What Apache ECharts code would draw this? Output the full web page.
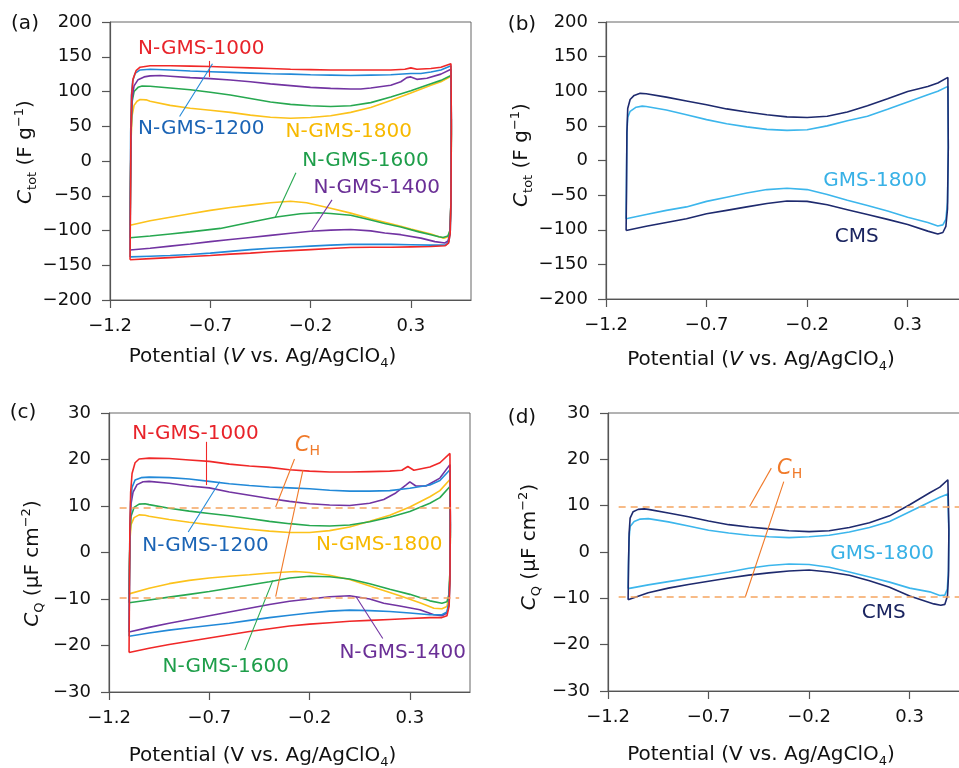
<!DOCTYPE html>
<html>
<head>
<meta charset="utf-8">
<title>CV capacitance</title>
<script src="https://cdn.jsdelivr.net/npm/echarts@6/dist/echarts.min.js"></script>
<style>
  html, body { margin: 0; padding: 0; background: #fff; }
  #chart { width: 959px; height: 768px; }
</style>
</head>
<body>
<div id="chart"></div>
<script>
// x ticks shared by every panel (V)
const xTicks = [-1.2, -0.7, -0.2, 0.3];

// (a) Ctot, F g-1  -- [potential, capacitance], anodic then cathodic sweep
const totN1000 = [[-1.1,-142],[-1.098,-60],[-1.096,40],[-1.092,95],[-1.085,118],[-1.07,130],[-1.05,135],[-1.0,137],[-0.9,137],[-0.8,136.5],[-0.7,136],[-0.6,135],[-0.5,134],[-0.4,133],[-0.3,132],[-0.2,131.5],[-0.1,131],[0,131],[0.1,131],[0.2,131],[0.27,132],[0.3,134],[0.33,132],[0.4,133],[0.45,135],[0.5,140],[0.502,60],[0.5,-60],[0.496,-105],[0.488,-118],[0.47,-122],[0.4,-123],[0.3,-123.5],[0.2,-124],[0.1,-124],[0,-124.5],[-0.1,-126],[-0.2,-127.5],[-0.3,-129],[-0.4,-130.5],[-0.5,-132.5],[-0.6,-134],[-0.7,-136],[-0.8,-137.5],[-0.9,-139],[-1.0,-140.5],[-1.1,-142]];
const totN1200 = [[-1.1,-138],[-1.099,-60],[-1.097,40],[-1.093,95],[-1.087,115],[-1.075,126],[-1.05,131],[-1.0,132],[-0.9,131],[-0.8,129.5],[-0.7,128.5],[-0.6,127.5],[-0.5,126.5],[-0.4,125.5],[-0.3,125],[-0.2,124],[-0.1,123.5],[0,123],[0.1,123.5],[0.2,124],[0.3,126],[0.35,126],[0.4,128],[0.45,131],[0.5,137],[0.502,60],[0.5,-50],[0.497,-100],[0.49,-116],[0.475,-121],[0.4,-121],[0.3,-120.5],[0.2,-120],[0.1,-120],[0,-120],[-0.1,-121],[-0.2,-122.5],[-0.3,-124],[-0.4,-125.5],[-0.5,-127.5],[-0.6,-130],[-0.7,-132.5],[-0.8,-134.5],[-0.9,-136],[-1.0,-137],[-1.1,-138]];
const totN1400 = [[-1.1,-128],[-1.098,-50],[-1.095,40],[-1.09,90],[-1.08,108],[-1.06,117],[-1.03,121],[-1.0,122.5],[-0.95,123],[-0.9,122],[-0.8,120],[-0.7,118.5],[-0.6,116.5],[-0.5,114],[-0.4,111],[-0.3,108.5],[-0.2,106],[-0.1,104.5],[0,103.5],[0.05,103.5],[0.1,105],[0.2,109],[0.25,114],[0.28,120],[0.3,121],[0.33,117.5],[0.38,119],[0.45,125],[0.5,132],[0.502,50],[0.5,-60],[0.495,-105],[0.485,-115],[0.47,-118],[0.42,-116],[0.35,-111],[0.25,-106],[0.17,-103.5],[0.1,-100.5],[0,-98.5],[-0.1,-99.5],[-0.2,-101],[-0.3,-104],[-0.4,-107],[-0.5,-110],[-0.6,-113],[-0.7,-116],[-0.8,-119.5],[-0.9,-122.5],[-1.0,-125.5],[-1.1,-128]];
const totN1600 = [[-1.1,-110.5],[-1.098,-40],[-1.095,40],[-1.09,85],[-1.08,100],[-1.06,106],[-1.04,108],[-1.0,107.5],[-0.9,105],[-0.8,102.5],[-0.7,99],[-0.6,95],[-0.5,90],[-0.4,85],[-0.3,81.5],[-0.2,79.5],[-0.1,78.5],[0,79.5],[0.1,84],[0.2,92],[0.3,101],[0.4,111],[0.45,116],[0.5,123],[0.502,40],[0.5,-60],[0.495,-100],[0.485,-108],[0.46,-110],[0.44,-109],[0.4,-106],[0.34,-102],[0.25,-95],[0.17,-90],[0.1,-85],[0,-78],[-0.1,-75.5],[-0.16,-74.5],[-0.25,-76],[-0.37,-80.5],[-0.5,-88],[-0.65,-97],[-0.8,-102],[-0.9,-105],[-1.0,-108],[-1.1,-110.5]];
const totN1800 = [[-1.1,-92.5],[-1.098,-30],[-1.095,30],[-1.09,65],[-1.08,80],[-1.065,86],[-1.05,88.5],[-1.02,88],[-1.0,86],[-0.9,80],[-0.8,76],[-0.7,73],[-0.6,70],[-0.5,66],[-0.4,63],[-0.3,61.5],[-0.2,62.5],[-0.1,65],[0,70],[0.1,77],[0.2,87],[0.3,98],[0.4,109],[0.45,114],[0.5,122],[0.502,40],[0.5,-60],[0.495,-100],[0.485,-109],[0.465,-111],[0.44,-109],[0.4,-105],[0.3,-98],[0.25,-94],[0.1,-83],[0,-75],[-0.1,-68],[-0.22,-60],[-0.3,-58],[-0.4,-60],[-0.5,-63.5],[-0.6,-67],[-0.7,-71],[-0.8,-76],[-0.9,-81],[-1.0,-86],[-1.1,-92.5]];

// (b) Ctot, F g-1
const totCMS = [[-1.1,-101],[-1.098,-40],[-1.096,40],[-1.092,75],[-1.08,88],[-1.06,94],[-1.03,97],[-1.0,96.5],[-0.9,91.5],[-0.8,86],[-0.7,80.5],[-0.6,74.5],[-0.5,70],[-0.4,66],[-0.3,63],[-0.2,62],[-0.1,64],[0,70],[0.1,79],[0.2,89],[0.3,99.5],[0.4,107],[0.45,112],[0.5,120],[0.502,20],[0.498,-70],[0.49,-95],[0.475,-104],[0.45,-106],[0.4,-102],[0.3,-92.5],[0.2,-85],[0.1,-78],[0,-71],[-0.1,-64],[-0.2,-59],[-0.3,-58.5],[-0.4,-62],[-0.5,-67],[-0.6,-72],[-0.7,-77],[-0.8,-84],[-0.9,-89.5],[-1.0,-95],[-1.1,-101]];
const totGMS1800 = [[-1.1,-84],[-1.098,-20],[-1.096,40],[-1.092,62],[-1.08,71],[-1.05,77],[-1.02,78.5],[-1.0,78],[-0.9,73],[-0.8,66],[-0.7,59],[-0.6,53],[-0.5,48.5],[-0.4,45],[-0.3,43.5],[-0.2,44.5],[-0.1,50],[0,57.5],[0.1,64],[0.2,74],[0.3,84.5],[0.4,95],[0.45,100],[0.5,107],[0.502,20],[0.498,-60],[0.49,-85],[0.475,-93],[0.45,-94.5],[0.4,-89.5],[0.3,-82],[0.2,-73],[0.1,-65],[0,-57.5],[-0.1,-49],[-0.2,-42],[-0.3,-40],[-0.4,-42],[-0.5,-47],[-0.6,-53],[-0.7,-59],[-0.8,-67],[-0.9,-72],[-1.0,-78],[-1.1,-84]];

// (c) CQ, uF cm-2
const cqN1000 = [[-1.1,-21.5],[-1.098,-8],[-1.096,5],[-1.092,13],[-1.085,17],[-1.07,19.3],[-1.05,20.1],[-1.0,20.3],[-0.9,20.2],[-0.8,19.9],[-0.7,19.6],[-0.6,19],[-0.5,18.6],[-0.4,18.3],[-0.3,17.8],[-0.2,17.5],[-0.1,17.3],[0,17.3],[0.1,17.4],[0.2,17.5],[0.26,17.7],[0.29,18.5],[0.32,17.7],[0.4,18.4],[0.45,19.3],[0.5,21.3],[0.502,8],[0.5,-6],[0.496,-11.5],[0.485,-13.6],[0.46,-14],[0.4,-14],[0.3,-14.2],[0.2,-14.4],[0.1,-14.6],[0,-14.8],[-0.1,-15.1],[-0.2,-15.4],[-0.3,-15.8],[-0.4,-16.4],[-0.5,-17],[-0.6,-17.7],[-0.7,-18.4],[-0.8,-19.1],[-0.9,-19.8],[-1.0,-20.6],[-1.1,-21.5]];
const cqN1200 = [[-1.1,-18],[-1.098,-6],[-1.096,5],[-1.092,11],[-1.085,14],[-1.07,15.6],[-1.04,16.1],[-1.0,16.2],[-0.9,16.1],[-0.8,15.8],[-0.7,15.3],[-0.6,14.8],[-0.5,14.4],[-0.4,14.1],[-0.3,13.9],[-0.2,13.7],[-0.1,13.4],[0,13.2],[0.1,13.2],[0.2,13.3],[0.3,13.8],[0.4,14.5],[0.45,15.5],[0.5,17.8],[0.502,6],[0.5,-5],[0.496,-10.5],[0.485,-12.8],[0.46,-13.4],[0.4,-13.4],[0.3,-13],[0.2,-12.7],[0.1,-12.5],[0,-12.4],[-0.1,-12.6],[-0.2,-13],[-0.3,-13.5],[-0.4,-14],[-0.5,-14.6],[-0.6,-15.2],[-0.7,-15.7],[-0.8,-16.2],[-0.9,-16.7],[-1.0,-17.3],[-1.1,-18]];
const cqN1400 = [[-1.1,-17.1],[-1.098,-5],[-1.095,5],[-1.09,10.5],[-1.08,13],[-1.06,14.6],[-1.03,15.2],[-1.0,15.3],[-0.9,14.9],[-0.8,14.3],[-0.7,13.9],[-0.6,13],[-0.5,12.3],[-0.4,11.6],[-0.3,11],[-0.2,10.5],[-0.1,10.2],[0,10.1],[0.1,10.6],[0.17,11.4],[0.23,12.8],[0.28,14.5],[0.3,15.2],[0.33,14.3],[0.38,14.3],[0.45,16],[0.5,18.9],[0.502,6],[0.5,-5],[0.495,-11],[0.485,-13],[0.46,-13.6],[0.42,-13.4],[0.35,-12.3],[0.25,-11.5],[0.17,-10.9],[0.1,-10],[0,-9.3],[-0.1,-9.5],[-0.2,-10],[-0.3,-10.5],[-0.4,-11.2],[-0.5,-12],[-0.6,-12.8],[-0.7,-13.6],[-0.8,-14.4],[-0.9,-15.2],[-1.0,-16.1],[-1.1,-17.1]];
const cqN1600 = [[-1.1,-10.8],[-1.098,-3],[-1.095,4],[-1.09,7.8],[-1.075,9.7],[-1.05,10.4],[-1.02,10.5],[-1.0,10.3],[-0.9,9.5],[-0.8,8.9],[-0.7,8.4],[-0.6,7.9],[-0.5,7.3],[-0.4,6.7],[-0.3,6.2],[-0.2,5.8],[-0.1,5.7],[0,5.9],[0.1,6.6],[0.2,7.6],[0.3,8.8],[0.4,10.6],[0.45,11.8],[0.5,14.2],[0.502,4],[0.5,-4],[0.495,-9],[0.485,-10.6],[0.46,-10.9],[0.4,-10.4],[0.3,-9],[0.2,-7.9],[0.1,-6.7],[0,-5.7],[-0.1,-5.2],[-0.2,-5.1],[-0.3,-5.5],[-0.4,-6.3],[-0.5,-7],[-0.6,-7.7],[-0.7,-8.4],[-0.8,-9],[-0.9,-9.6],[-1.0,-10.2],[-1.1,-10.8]];
const cqN1800 = [[-1.1,-8.9],[-1.098,-2],[-1.095,3],[-1.09,6],[-1.075,7.5],[-1.05,8.1],[-1.02,8],[-1.0,7.8],[-0.9,7.1],[-0.8,6.5],[-0.7,6],[-0.6,5.5],[-0.5,5],[-0.4,4.6],[-0.3,4.3],[-0.2,4.3],[-0.1,4.7],[0,5.5],[0.1,6.7],[0.2,8],[0.3,9.8],[0.4,12],[0.45,13.3],[0.5,15.7],[0.502,4],[0.5,-4],[0.495,-9.5],[0.485,-11.6],[0.46,-12.1],[0.42,-12],[0.35,-10.8],[0.25,-9.3],[0.2,-8.6],[0.1,-7.2],[0,-5.8],[-0.1,-4.9],[-0.2,-4.3],[-0.27,-4.1],[-0.4,-4.4],[-0.5,-4.8],[-0.6,-5.1],[-0.7,-5.5],[-0.8,-6],[-0.9,-6.7],[-1.0,-7.7],[-1.1,-8.9]];

// (d) CQ, uF cm-2
const cqCMS = [[-1.1,-10.3],[-1.098,-3],[-1.095,4],[-1.09,7.3],[-1.075,8.7],[-1.05,9.2],[-1.02,9.3],[-1.0,9.2],[-0.9,8.4],[-0.8,7.6],[-0.7,6.7],[-0.6,5.9],[-0.5,5.4],[-0.4,5],[-0.3,4.6],[-0.2,4.4],[-0.1,4.6],[0,5.3],[0.1,6.3],[0.2,7.8],[0.3,10.2],[0.4,12.8],[0.45,14],[0.49,15.6],[0.495,5],[0.493,-5],[0.488,-9.5],[0.475,-11.3],[0.455,-11.5],[0.42,-11.2],[0.3,-9.5],[0.2,-7.6],[0.1,-6.2],[0,-5],[-0.1,-4.3],[-0.2,-3.9],[-0.3,-4.1],[-0.4,-4.5],[-0.5,-5],[-0.6,-5.6],[-0.7,-6.3],[-0.8,-7],[-0.9,-7.8],[-1.0,-8.8],[-1.1,-10.3]];
const cqGMS1800 = [[-1.1,-7.9],[-1.098,-2],[-1.095,3],[-1.09,5.5],[-1.07,6.6],[-1.04,7.1],[-1.0,7.2],[-0.9,6.5],[-0.8,5.6],[-0.7,4.7],[-0.6,4.1],[-0.5,3.6],[-0.4,3.3],[-0.3,3.1],[-0.2,3.3],[-0.1,3.6],[0,4.3],[0.1,5.3],[0.2,6.6],[0.3,8.7],[0.4,10.8],[0.45,11.8],[0.49,12.5],[0.495,4],[0.493,-4],[0.487,-8],[0.475,-9.3],[0.45,-9.4],[0.4,-8.6],[0.3,-7.8],[0.2,-6.5],[0.1,-5.4],[0,-4.3],[-0.1,-3.3],[-0.2,-2.7],[-0.3,-2.6],[-0.4,-2.9],[-0.5,-3.5],[-0.6,-4.3],[-0.7,-5],[-0.8,-5.7],[-0.9,-6.4],[-1.0,-7.1],[-1.1,-7.9]];

// C_H reference level, uF cm-2
const cH = 9.7;

// annotation anchors in data units: [text, V, C]
const labelsA = [['N-GMS-1000', -0.745, 162], ['N-GMS-1200', -0.745, 46], ['N-GMS-1800', -0.01, 42], ['N-GMS-1600', 0.074, 0], ['N-GMS-1400', 0.13, -39]];
const labelsB = [['GMS-1800', 0.138, -29], ['CMS', 0.047, -110]];
const labelsC = [['N-GMS-1000', -0.769, 25.6], ['C_H', -0.21, 23.1], ['N-GMS-1200', -0.719, 1.4], ['N-GMS-1800', 0.148, 1.6], ['N-GMS-1600', -0.618, -24.5], ['N-GMS-1400', 0.264, -21.6]];
const labelsD = [['C_H', -0.297, 18.1], ['GMS-1800', 0.163, -0.4], ['CMS', 0.171, -13.2]];

// leader lines: [owner, V1, C1, V2, C2]
const leadersA = [['N-GMS-1000', -0.705, 144, -0.705, 121], ['N-GMS-1200', -0.853, 64, -0.689, 140], ['N-GMS-1600', -0.376, -81, -0.273, -17], ['N-GMS-1400', -0.193, -100, -0.093, -56]];
const leadersC = [['N-GMS-1000', -0.714, 23.8, -0.714, 14.5], ['N-GMS-1200', -0.805, 4.4, -0.648, 15.2], ['C_H', -0.369, 9.8, -0.275, 20.1], ['C_H', -0.369, -9.5, -0.233, 17.7], ['N-GMS-1600', -0.523, -21, -0.383, -6], ['N-GMS-1400', 0.165, -18.5, 0.032, -9.5]];
const leadersD = [['C_H', -0.496, 9.8, -0.388, 18.1], ['C_H', -0.517, -9.65, -0.326, 15.2]];

const FONT = 'DejaVu Sans';
const lineColor = {
  'N-GMS-1000': '#f02828', 'N-GMS-1200': '#2289d8', 'N-GMS-1400': '#7234a2',
  'N-GMS-1600': '#27a850', 'N-GMS-1800': '#fcc21b', 'CMS': '#1e2a6e', 'GMS-1800': '#3cb6ec'
};
const textColor = {
  'N-GMS-1000': '#e8232a', 'N-GMS-1200': '#1b64b5', 'N-GMS-1400': '#6a2f96',
  'N-GMS-1600': '#1e9e4a', 'N-GMS-1800': '#f7b900', 'CMS': '#1b2560', 'GMS-1800': '#38b1e6',
  'C_H': '#f07a2a'
};
const dashColor = '#f5a560';

function minus(v, digits) {
  const s = digits ? Math.abs(v).toFixed(digits) : String(Math.abs(v));
  return v < 0 ? '\u2212' + s : s;
}

const grids = [
  { left: 110, top: 22, width: 361, height: 278 },
  { left: 606, top: 22, width: 362, height: 277 },
  { left: 109, top: 413, width: 361, height: 279 },
  { left: 608, top: 413, width: 362, height: 278 }
];

const nameRich = {
  n: { fontSize: 20, lineHeight: 26, color: '#111', fontFamily: FONT },
  i: { fontSize: 20, lineHeight: 26, color: '#111', fontFamily: FONT, fontStyle: 'italic' },
  s: { fontSize: 13, lineHeight: 14, color: '#111', fontFamily: FONT, verticalAlign: 'bottom' },
  p: { fontSize: 13, lineHeight: 10, color: '#111', fontFamily: FONT, verticalAlign: 'top' }
};

const xNames = [
  '{n|Potential (}{i|V}{n| vs. Ag/AgClO}{s|4}{n|)}',
  '{n|Potential (}{i|V}{n| vs. Ag/AgClO}{s|4}{n|)}',
  '{n|Potential (V vs. Ag/AgClO}{s|4}{n|)}',
  '{n|Potential (V vs. Ag/AgClO}{s|4}{n|)}'
];
const xNamePad = [56, 52, 54, 56];
const xNameGap = [44, 48, 51, 51];
const yNames = [
  '{i|C}{s|tot}{n| (F g}{p|\u22121}{n|)}',
  '{i|C}{s|tot}{n| (F g}{p|\u22121}{n|)}',
  '{i|C}{s|Q}{n| (\u03bcF cm}{p|\u22122}{n|)}',
  '{i|C}{s|Q}{n| (\u03bcF cm}{p|\u22122}{n|)}'
];
const yNamePad = [[0, 0, 0, 18], [0, 0, 0, 11], [0, 22, 0, 0], [0, 0, 0, 10]];
const yNameGap = [65, 71, 63, 65];
const yRange = [[-200, 200, 50], [-200, 200, 50], [-30, 30, 10], [-30, 30, 10]];

const xAxes = grids.map((g, i) => ({
  type: 'value', gridIndex: i, min: -1.2, max: 0.6,
  axisLine: { onZero: false, lineStyle: { color: '#555', width: 1.2 } },
  axisTick: { show: true, inside: false, length: 8, customValues: xTicks, lineStyle: { color: '#555', width: 1.2 } },
  axisLabel: { customValues: xTicks, formatter: v => minus(v, 1), color: '#111', fontSize: 18, fontFamily: FONT, margin: 17 },
  splitLine: { show: false },
  name: xNames[i], nameLocation: 'middle', nameGap: xNameGap[i],
  nameTextStyle: { rich: nameRich, padding: [0, xNamePad[i], 0, 0] }
}));

const yAxes = grids.map((g, i) => ({
  type: 'value', gridIndex: i, min: yRange[i][0], max: yRange[i][1], interval: yRange[i][2],
  axisLine: { onZero: false, lineStyle: { color: '#555', width: 1.2 } },
  axisTick: { show: true, inside: false, length: 8, lineStyle: { color: '#555', width: 1.2 } },
  axisLabel: { formatter: v => minus(v), color: '#111', fontSize: 18, fontFamily: FONT, margin: 18 },
  splitLine: { show: false },
  name: yNames[i], nameLocation: 'middle', nameGap: yNameGap[i],
  nameTextStyle: { rich: nameRich, padding: yNamePad[i] }
}));

function curve(i, name, data) {
  return {
    type: 'line', name: name, xAxisIndex: i, yAxisIndex: i, data: data,
    symbol: 'none', showSymbol: false, animation: false, silent: true,
    lineStyle: { width: 1.6, color: lineColor[name] },
    itemStyle: { color: lineColor[name] }
  };
}

function labelText(t) {
  return t === 'C_H' ? '{i|C}{s|H}' : t;
}

function annotations(i, labels, leaders, dashEnd) {
  const lines = leaders.map(l => [
    { coord: [l[1], l[2]], lineStyle: { color: l[0] === 'C_H' ? textColor['C_H'] : lineColor[l[0]], width: 1.1, type: 'solid', opacity: 1 } },
    { coord: [l[3], l[4]] }
  ]);
  if (dashEnd) {
    [cH, -cH].forEach(c => {
      lines.push([
        { coord: [-1.147, c], lineStyle: { color: dashColor, width: 1.6, type: [7, 5], opacity: 1 } },
        { coord: [dashEnd, c] }
      ]);
    });
  }
  return {
    type: 'scatter', xAxisIndex: i, yAxisIndex: i, symbolSize: 0, animation: false, silent: true, z: 5,
    itemStyle: { opacity: 1 },
    data: labels.map(l => ({
      value: [l[1], l[2]],
      label: {
        show: true, position: 'inside', formatter: labelText(l[0]), color: textColor[l[0]], opacity: 1,
        fontSize: 20, fontFamily: FONT,
        rich: {
          i: { fontSize: 21, fontStyle: 'italic', color: textColor['C_H'], fontFamily: FONT, lineHeight: 26 },
          s: { fontSize: 14, color: textColor['C_H'], fontFamily: FONT, verticalAlign: 'bottom', lineHeight: 14 }
        }
      }
    })),
    markLine: {
      silent: true, symbol: ['none', 'none'], animation: false,
      label: { show: false }, emphasis: { disabled: true },
      data: lines
    }
  };
}

const series = [
  curve(0, 'N-GMS-1800', totN1800), curve(0, 'N-GMS-1600', totN1600), curve(0, 'N-GMS-1400', totN1400),
  curve(0, 'N-GMS-1200', totN1200), curve(0, 'N-GMS-1000', totN1000),
  curve(1, 'GMS-1800', totGMS1800), curve(1, 'CMS', totCMS),
  curve(2, 'N-GMS-1800', cqN1800), curve(2, 'N-GMS-1600', cqN1600), curve(2, 'N-GMS-1400', cqN1400),
  curve(2, 'N-GMS-1200', cqN1200), curve(2, 'N-GMS-1000', cqN1000),
  curve(3, 'GMS-1800', cqGMS1800), curve(3, 'CMS', cqCMS),
  annotations(0, labelsA, leadersA, null),
  annotations(1, labelsB, [], null),
  annotations(2, labelsC, leadersC, 0.546),
  annotations(3, labelsD, leadersD, 0.6)
];

const panelTags = [['(a)', 25, 24], ['(b)', 522, 25], ['(c)', 23, 413], ['(d)', 522, 418]];

const chart = echarts.init(document.getElementById('chart'), null, { renderer: 'canvas' });
chart.setOption({
  backgroundColor: '#fff',
  animation: false,
  grid: grids.map(g => Object.assign({ show: true, borderColor: '#666', borderWidth: 1, containLabel: false, outerBoundsMode: 'none' }, g)),
  xAxis: xAxes,
  yAxis: yAxes,
  series: series,
  graphic: panelTags.map(t => ({
    type: 'text', x: t[1], y: t[2], silent: true,
    style: { text: t[0], font: '20px "' + FONT + '"', fill: '#111', align: 'center', verticalAlign: 'middle' }
  }))
});
</script>
</body>
</html>
